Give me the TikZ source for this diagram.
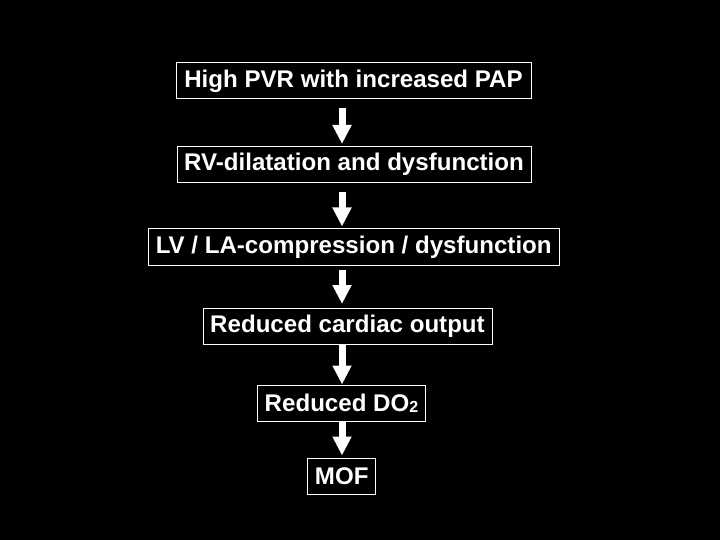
\documentclass[tikz,border=0pt]{standalone}
\usepackage{fontspec}
\setmainfont{Liberation Sans}
\usetikzlibrary{arrows.meta}

\tikzset{
	stage/.style={draw=white,line width=1pt,text=white,inner sep=0pt,
		minimum height=36pt,font=\bfseries\fontsize{24.1}{28}\selectfont},
	flow/.style={draw=white,line width=7pt,-{Triangle[width=18pt,length=19pt]}}
}

\begin{document}
\begin{tikzpicture}[x=1pt,y=-1pt]
	\fill[black] (0,0) rectangle (720,540);
	\coordinate (ax) at (342,0);
	\node[stage,minimum width=355pt] (pvr) at (353.5,81) {High PVR with increased PAP};
	\node[stage,minimum width=354pt] (rv) at (354,164.5) {RV-dilatation and dysfunction};
	\node[stage,minimum width=411pt] (lv) at (353.7,247) {LV / LA-compression / dysfunction};
	\node[stage,minimum width=289pt] (co) at (347.5,326.5) {Reduced cardiac output};
	\node[stage,minimum width=168pt] (do) at (341.5,403) {Reduced DO{\fontsize{16}{16}\selectfont\raisebox{-1pt}{2}}};
	\node[stage,minimum width=68pt] (mof) at (341.7,476) {MOF};
	\draw[flow,shorten <=9pt,shorten >=2pt] (pvr.south -| ax) -- (rv.north -| ax);
	\draw[flow,shorten <=9pt,shorten >=2pt] (rv.south -| ax) -- (lv.north -| ax);
	\draw[flow,shorten <=4pt,shorten >=4pt] (lv.south -| ax) -- (co.north -| ax);
	\draw[flow] (co.south -| ax) -- (do.north -| ax);
	\draw[flow,shorten >=2pt] (do.south -| ax) -- (mof.north -| ax);
\end{tikzpicture}
\end{document}
